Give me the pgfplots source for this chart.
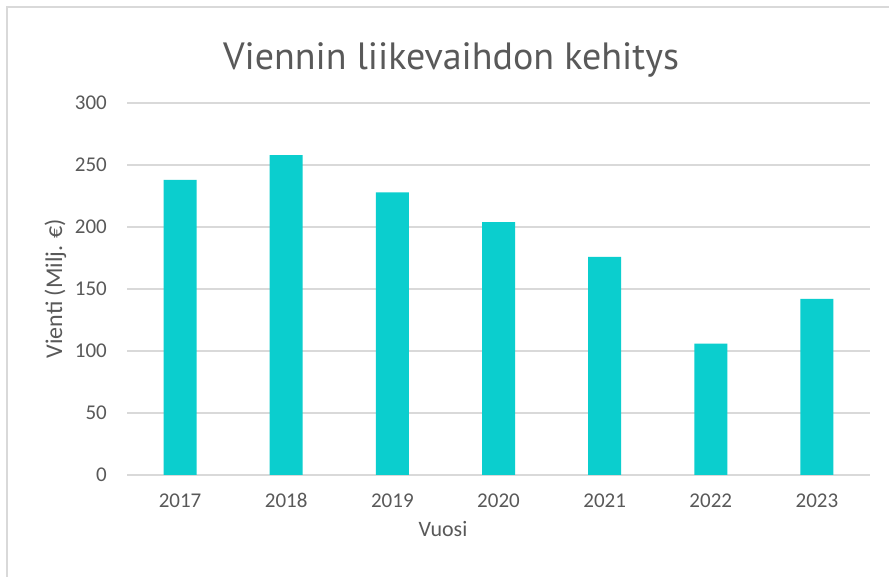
\documentclass[border=0pt]{standalone}
\usepackage{fontspec}
\setmainfont{Carlito}
\newfontfamily\titlefont{PT Sans}
\usepackage{pgfplots}
\pgfplotsset{compat=1.18}

\definecolor{barcol}{RGB}{11,206,206}
\definecolor{gridcol}{RGB}{217,217,217}
\definecolor{txt}{RGB}{89,89,89}
\definecolor{framecol}{RGB}{217,217,217}

\begin{document}
\begin{tikzpicture}[x=1pt,y=1pt]
\useasboundingbox (0,0) rectangle (889,577);
\fill[white] (0,0) rectangle (889,577);
\draw[framecol, line width=2pt] (7,0) -- (7,570) -- (889,570);

\begin{axis}[
    at={(127pt,102pt)}, anchor=south west,
    scale only axis,
    width=743pt, height=372pt,
    xmin=-0.5, xmax=6.5,
    ymin=0, ymax=300,
    ybar, bar width=33pt,
    xtick=data,
    xticklabels={2017,2018,2019,2020,2021,2022,2023},
    ytick={0,50,...,300},
    ymajorgrids,
    grid style={gridcol, line width=1.5pt},
    axis line style={draw=none},
    major tick length=0pt,
    tick label style={font=\fontsize{21}{24}\selectfont, text=txt},
    /pgf/number format/assume math mode=true,
    yticklabel style={inner sep=0pt, xshift=-20pt},
    xticklabel style={inner sep=0pt, anchor=base, yshift=-33pt},
]
\addplot[fill=barcol, draw=none] coordinates {
    (0,238) (1,258) (2,228) (3,204) (4,176) (5,106) (6,142)
};
\end{axis}

\node[anchor=base, text=txt, font=\titlefont\fontsize{38}{46}\selectfont] at (451,507) {Viennin liikevaihdon kehitys};
\node[anchor=base, text=txt, font=\fontsize{22}{26}\selectfont] at (443,40) {Vuosi};
\node[anchor=base, rotate=90, text=txt, font=\fontsize{24}{28}\selectfont] at (62,288.5) {Vienti (Milj. €)};
\end{tikzpicture}
\end{document}
